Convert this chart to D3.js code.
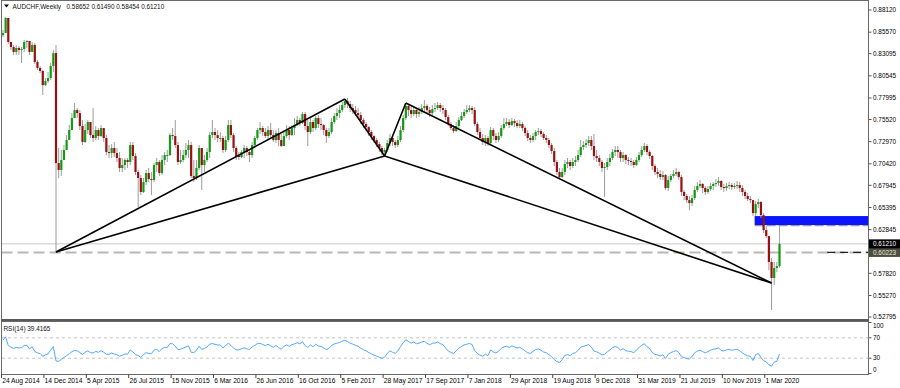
<!DOCTYPE html>
<html>
<head>
<meta charset="utf-8">
<script src="https://cdn.jsdelivr.net/npm/d3@7"></script>
<style>
body { margin: 0; background: #fff; }
svg { display: block; font-family: "Liberation Sans", Arial, sans-serif; }
</style>
</head>
<body>
<svg id="chart" width="900" height="388"></svg>
<script>
// AUDCHF weekly, 24 Aug 2014 .. 5 Apr 2020
var symbol = "AUDCHF,Weekly";
var firstWeek = "2014-08-24";
var firstOpen = 0.8524;

var closes = [
  0.8547,0.8720,0.8444,0.8386,0.8329,0.8375,0.8352,0.8363,0.8444,0.8455,
  0.8329,0.8409,0.8214,0.8145,0.8110,0.7948,0.7994,0.8029,0.8168,0.8317,
  0.7051,0.6971,0.7086,0.7201,0.7316,0.7431,0.7569,0.7661,0.7626,0.7477,
  0.7293,0.7431,0.7523,0.7373,0.7339,0.7431,0.7362,0.7454,0.7339,0.7178,
  0.7166,0.7224,0.7166,0.7109,0.6994,0.7028,0.7086,0.7063,0.7258,0.7132,
  0.6948,0.6879,0.6718,0.6833,0.6936,0.6867,0.6856,0.7028,0.7063,0.6936,
  0.7086,0.7143,0.7143,0.7373,0.7362,0.7258,0.7063,0.7086,0.7143,0.7201,
  0.7258,0.6902,0.6879,0.6994,0.7224,0.7028,0.7086,0.7178,0.7373,0.7408,
  0.7373,0.7339,0.7339,0.7201,0.7316,0.7488,0.7373,0.7224,0.7132,0.7120,
  0.7178,0.7224,0.7178,0.7143,0.7258,0.7339,0.7431,0.7454,0.7408,0.7362,
  0.7431,0.7373,0.7316,0.7396,0.7316,0.7247,0.7362,0.7431,0.7373,0.7454,
  0.7488,0.7546,0.7511,0.7615,0.7477,0.7408,0.7523,0.7454,0.7569,0.7500,
  0.7488,0.7431,0.7362,0.7408,0.7523,0.7592,0.7626,0.7661,0.7718,0.7764,
  0.7730,0.7684,0.7661,0.7626,0.7603,0.7546,0.7500,0.7465,0.7408,0.7362,
  0.7316,0.7270,0.7224,0.7178,0.7201,0.7281,0.7339,0.7293,0.7258,0.7316,
  0.7431,0.7569,0.7707,0.7661,0.7615,0.7661,0.7615,0.7638,0.7684,0.7707,
  0.7661,0.7626,0.7672,0.7684,0.7718,0.7684,0.7661,0.7580,0.7500,0.7454,
  0.7419,0.7477,0.7546,0.7592,0.7638,0.7661,0.7684,0.7661,0.7500,0.7408,
  0.7339,0.7293,0.7339,0.7281,0.7431,0.7362,0.7316,0.7362,0.7454,0.7500,
  0.7523,0.7488,0.7534,0.7511,0.7477,0.7500,0.7454,0.7396,0.7339,0.7316,
  0.7362,0.7408,0.7419,0.7385,0.7339,0.7316,0.7258,0.7189,0.7063,0.6948,
  0.6890,0.6948,0.7040,0.7063,0.7017,0.7063,0.7086,0.7143,0.7235,0.7258,
  0.7281,0.7316,0.7247,0.7132,0.7109,0.7063,0.6994,0.7005,0.7063,0.7109,
  0.7178,0.7201,0.7178,0.7109,0.7143,0.7086,0.7074,0.7063,0.7028,0.7086,
  0.7143,0.7201,0.7247,0.7178,0.7132,0.7017,0.6948,0.6925,0.6890,0.6913,
  0.6764,0.6856,0.6902,0.6925,0.6948,0.6890,0.6718,0.6672,0.6625,0.6590,
  0.6648,0.6741,0.6787,0.6810,0.6764,0.6718,0.6752,0.6787,0.6810,0.6821,
  0.6844,0.6775,0.6764,0.6787,0.6798,0.6775,0.6787,0.6798,0.6764,0.6718,
  0.6672,0.6637,0.6625,0.6475,0.6579,0.6602,0.6452,0.6280,0.6211,0.5912,
  0.5728,0.5843,0.58652,0.61210
];

var highs = [
  0.8582,0.8731,0.8720,0.8432,0.8409,0.8409,0.8398,0.8386,0.8467,0.8467,
  0.8444,0.8444,0.8432,0.8237,0.8168,0.8122,0.8029,0.8099,0.8202,0.8352,
  0.8409,0.7224,0.7201,0.7258,0.7373,0.7488,0.7626,0.7742,0.7684,0.7661,
  0.7546,0.7500,0.7546,0.7523,0.7684,0.7477,0.7454,0.7488,0.7454,0.7373,
  0.7258,0.7270,0.7293,0.7224,0.7178,0.7109,0.7109,0.7109,0.7293,0.7293,
  0.7166,0.6971,0.6913,0.6879,0.6971,0.6994,0.6948,0.7051,0.7109,0.7086,
  0.7143,0.7178,0.7201,0.7396,0.7454,0.7546,0.7293,0.7201,0.7201,0.7281,
  0.7316,0.7293,0.7086,0.7086,0.7258,0.7201,0.7143,0.7224,0.7408,0.7546,
  0.7454,0.7431,0.7408,0.7362,0.7362,0.7546,0.7546,0.7396,0.7247,0.7178,
  0.7201,0.7258,0.7247,0.7201,0.7293,0.7362,0.7454,0.7523,0.7477,0.7454,
  0.7477,0.7511,0.7431,0.7431,0.7454,0.7385,0.7408,0.7488,0.7477,0.7488,
  0.7569,0.7592,0.7569,0.7638,0.7638,0.7546,0.7569,0.7546,0.7592,0.7603,
  0.7569,0.7500,0.7454,0.7454,0.7569,0.7626,0.7684,0.7718,0.7753,0.7788,
  0.7799,0.7764,0.7730,0.7707,0.7684,0.7638,0.7569,0.7523,0.7477,0.7431,
  0.7373,0.7339,0.7293,0.7247,0.7224,0.7316,0.7385,0.7362,0.7316,0.7362,
  0.7477,0.7603,0.7742,0.7730,0.7695,0.7707,0.7684,0.7695,0.7730,0.7776,
  0.7730,0.7695,0.7718,0.7742,0.7753,0.7742,0.7718,0.7684,0.7603,0.7523,
  0.7488,0.7523,0.7580,0.7638,0.7672,0.7718,0.7718,0.7707,0.7695,0.7523,
  0.7454,0.7385,0.7373,0.7362,0.7465,0.7454,0.7396,0.7408,0.7488,0.7569,
  0.7569,0.7557,0.7569,0.7557,0.7546,0.7546,0.7523,0.7477,0.7431,0.7373,
  0.7396,0.7431,0.7454,0.7442,0.7408,0.7373,0.7339,0.7281,0.7224,0.7086,
  0.6994,0.6994,0.7086,0.7109,0.7086,0.7109,0.7132,0.7201,0.7316,0.7304,
  0.7327,0.7362,0.7362,0.7385,0.7201,0.7143,0.7086,0.7051,0.7109,0.7155,
  0.7212,0.7247,0.7247,0.7201,0.7178,0.7155,0.7120,0.7109,0.7086,0.7120,
  0.7178,0.7247,0.7281,0.7270,0.7201,0.7143,0.7040,0.6994,0.6971,0.6959,
  0.6925,0.6902,0.6925,0.6971,0.6994,0.6959,0.6913,0.6741,0.6695,0.6672,
  0.6683,0.6787,0.6833,0.6856,0.6821,0.6787,0.6787,0.6821,0.6833,0.6867,
  0.6890,0.6856,0.6810,0.6821,0.6833,0.6821,0.6821,0.6844,0.6833,0.6798,
  0.6741,0.6706,0.6672,0.6625,0.6614,0.6637,0.6614,0.6475,0.6326,0.6165,
  0.5958,0.5912,0.5912,0.61490
];

var lows = [
  0.8501,0.8547,0.8421,0.8352,0.8294,0.8294,0.8294,0.8202,0.8329,0.8375,
  0.8294,0.8352,0.8191,0.8122,0.8087,0.7834,0.7937,0.7972,0.8006,0.8099,
  0.6027,0.6879,0.6902,0.7109,0.7201,0.7316,0.7454,0.7569,0.7569,0.7431,
  0.7258,0.7281,0.7385,0.7339,0.7293,0.7316,0.7316,0.7350,0.7293,0.7143,
  0.7109,0.7109,0.7120,0.7063,0.6948,0.6948,0.6971,0.6994,0.7028,0.7086,
  0.6913,0.6545,0.6683,0.6706,0.6798,0.6833,0.6683,0.6833,0.6948,0.6902,
  0.6913,0.7028,0.7063,0.7132,0.7316,0.7224,0.7028,0.7040,0.7063,0.7109,
  0.7109,0.6879,0.6833,0.6856,0.6971,0.6741,0.6948,0.7063,0.7109,0.7339,
  0.7316,0.7293,0.7293,0.7166,0.7178,0.7293,0.7339,0.7178,0.7086,0.7086,
  0.7109,0.7109,0.7132,0.7063,0.7109,0.7224,0.7316,0.7385,0.7362,0.7339,
  0.7316,0.7339,0.7293,0.7281,0.7247,0.7235,0.7247,0.7339,0.7316,0.7362,
  0.7373,0.7477,0.7477,0.7500,0.7431,0.7247,0.7385,0.7408,0.7431,0.7454,
  0.7431,0.7373,0.7281,0.7339,0.7385,0.7500,0.7546,0.7569,0.7638,0.7684,
  0.7684,0.7638,0.7615,0.7592,0.7569,0.7500,0.7454,0.7419,0.7362,0.7316,
  0.7281,0.7235,0.7178,0.7143,0.7120,0.7178,0.7247,0.7247,0.7224,0.7235,
  0.7293,0.7408,0.7546,0.7592,0.7569,0.7592,0.7569,0.7580,0.7615,0.7638,
  0.7615,0.7580,0.7603,0.7638,0.7661,0.7638,0.7615,0.7546,0.7477,0.7431,
  0.7396,0.7408,0.7454,0.7534,0.7569,0.7615,0.7638,0.7615,0.7477,0.7373,
  0.7316,0.7258,0.7247,0.7247,0.7258,0.7316,0.7281,0.7293,0.7339,0.7431,
  0.7477,0.7454,0.7477,0.7465,0.7454,0.7454,0.7419,0.7362,0.7304,0.7281,
  0.7293,0.7316,0.7373,0.7350,0.7316,0.7281,0.7224,0.7155,0.7017,0.6913,
  0.6867,0.6879,0.6913,0.6994,0.6971,0.6994,0.7017,0.7063,0.7120,0.7201,
  0.7224,0.7247,0.7201,0.7086,0.7063,0.7017,0.6948,0.6660,0.6971,0.7017,
  0.7086,0.7132,0.7109,0.7063,0.7063,0.7040,0.7028,0.7017,0.6994,0.7017,
  0.7063,0.7120,0.7178,0.7143,0.7097,0.6971,0.6913,0.6879,0.6856,0.6856,
  0.6741,0.6729,0.6833,0.6879,0.6902,0.6856,0.6672,0.6625,0.6590,0.6510,
  0.6556,0.6625,0.6718,0.6764,0.6706,0.6683,0.6695,0.6729,0.6741,0.6775,
  0.6787,0.6741,0.6718,0.6729,0.6752,0.6741,0.6752,0.6752,0.6718,0.6672,
  0.6637,0.6614,0.6590,0.6441,0.6441,0.6533,0.6418,0.6245,0.6188,0.5820,
  0.5360,0.5648,0.5797,0.58454
];

var priceTicks = [0.88120, 0.85570, 0.83095, 0.80545, 0.77995, 0.75520, 0.72970,
                  0.70420, 0.67945, 0.65395, 0.62845, 0.57820, 0.55270, 0.52795];
var dateTicks = ["24 Aug 2014", "14 Dec 2014", "5 Apr 2015", "26 Jul 2015", "15 Nov 2015",
                 "6 Mar 2016", "26 Jun 2016", "16 Oct 2016", "5 Feb 2017", "28 May 2017",
                 "17 Sep 2017", "7 Jan 2018", "29 Apr 2018", "19 Aug 2018", "9 Dec 2018",
                 "31 Mar 2019", "21 Jul 2019", "10 Nov 2019", "1 Mar 2020"];
var rsiTicks = [100, 70, 30, 0];
var rsiLevels = [70, 30];
var rsiPeriod = 14;
var rsiSeed = [0.0040, 0.0022];   // avg gain / avg loss carried in from the weeks before the window
var rsiLabel = "RSI(14) 39.4165";

// drawn objects
var levelPrice = 0.60223;           // dashed line at the SNB low
var levelDarkFrom = "2020-08-09";   // where the black part of that line starts
var zoneStart = "2020-02-02";
var zoneTop = 0.6441;
var zoneBottom = 0.6337;
var pivotNames  = ["X", "A", "B", "C", "D"];
var pivotDates  = ["2015-01-11", "2017-02-12", "2017-05-28", "2017-07-23", "2020-03-15"];
var pivotPrices = [0.6027, 0.7788, 0.7132, 0.7742, 0.5670];
var legs = [["X", "A"], ["X", "B"], ["A", "B"], ["B", "C"], ["C", "D"], ["B", "D"]];

var svg = d3.select("#chart");
var parseDay = d3.utcParse("%Y-%m-%d");
var parseTick = d3.utcParse("%d %b %Y");
var start = parseDay(firstWeek);

var bars = closes.map(function (c, i) {
    var o = i === 0 ? firstOpen : closes[i - 1];
    return {
        date: d3.utcWeek.offset(start, i),
        open: o, close: c,
        high: Math.max(highs[i], o, c),
        low: Math.min(lows[i], o, c)
    };
});
var last = bars[bars.length - 1];

var plotRight = 868.5;
var x = d3.scaleUtc().domain([bars[0].date, last.date]).range([3, 779.5]);
var y = d3.scaleLinear().domain([priceTicks[priceTicks.length - 1], priceTicks[0]]).range([317, 10]);
var ry = d3.scaleLinear().domain([0, 100]).range([373.5, 322.5]);

svg.append("defs").append("clipPath").attr("id", "mainclip")
    .append("rect").attr("x", 1.5).attr("y", 1).attr("width", plotRight - 1.5).attr("height", 318);

var main = svg.append("g").attr("clip-path", "url(#mainclip)");

// zone box (background object)
var zx = x(parseDay(zoneStart)) - 1;
main.append("rect")
    .attr("x", zx).attr("y", y(zoneTop))
    .attr("width", plotRight - zx).attr("height", y(zoneBottom) - y(zoneTop))
    .attr("fill", "#0a14ff");
main.append("line")
    .attr("x1", zx).attr("x2", plotRight)
    .attr("y1", y(zoneBottom) + 0.5).attr("y2", y(zoneBottom) + 0.5)
    .attr("stroke", "#9a9a9a").attr("stroke-width", 1.2)
    .style("stroke-dasharray", "9,3");
main.append("line")
    .attr("x1", x(last.date)).attr("x2", x(last.date))
    .attr("y1", y(zoneBottom) + 1).attr("y2", y(last.high))
    .attr("stroke", "#a8a8a8").attr("stroke-width", 1);

// bid line and dashed level
main.append("line")
    .attr("x1", 1.5).attr("x2", plotRight)
    .attr("y1", y(last.close)).attr("y2", y(last.close))
    .attr("stroke", "#c8c8c8").attr("stroke-width", 1);
main.append("line")
    .attr("x1", 1.5).attr("x2", plotRight)
    .attr("y1", y(levelPrice)).attr("y2", y(levelPrice))
    .attr("stroke", "#b9b9b1").attr("stroke-width", 2)
    .style("stroke-dasharray", "11,5");
main.append("line")
    .attr("x1", x(parseDay(levelDarkFrom))).attr("x2", plotRight)
    .attr("y1", y(levelPrice)).attr("y2", y(levelPrice))
    .attr("stroke", "#222").attr("stroke-width", 1.3)
    .style("stroke-dasharray", "8,5");

// candles
var candle = main.append("g").selectAll("g").data(bars).enter().append("g");
candle.append("line")
    .attr("x1", function (d) { return x(d.date); })
    .attr("x2", function (d) { return x(d.date); })
    .attr("y1", function (d) { return y(d.high); })
    .attr("y2", function (d) { return y(d.low); })
    .attr("stroke", "#9c9c9c").attr("stroke-width", 1);
candle.append("rect")
    .attr("x", function (d) { return x(d.date) - 1.1; })
    .attr("width", 2.2)
    .attr("y", function (d) { return y(Math.max(d.open, d.close)); })
    .attr("height", function (d) { return Math.max(1, Math.abs(y(d.open) - y(d.close))); })
    .attr("fill", function (d) { return d.close >= d.open ? "#139a13" : "#9a1010"; });

// trend lines between pivots
var pivot = {};
pivotNames.forEach(function (n, i) {
    pivot[n] = { date: parseDay(pivotDates[i]), price: pivotPrices[i] };
});
main.append("g").selectAll("line").data(legs).enter().append("line")
    .attr("x1", function (d) { return x(pivot[d[0]].date); })
    .attr("y1", function (d) { return y(pivot[d[0]].price); })
    .attr("x2", function (d) { return x(pivot[d[1]].date); })
    .attr("y2", function (d) { return y(pivot[d[1]].price); })
    .attr("stroke", "#000").attr("stroke-width", 1.6);

// frames
svg.append("rect").attr("x", 1.5).attr("y", 0.5).attr("width", plotRight - 1.5).attr("height", 319)
    .attr("fill", "none").attr("stroke", "#6a6a6a").attr("stroke-width", 1);
svg.append("line").attr("x1", 1).attr("x2", plotRight + 0.5).attr("y1", 320.3).attr("y2", 320.3)
    .attr("stroke", "#5a5a5a").attr("stroke-width", 2.6);
svg.append("rect").attr("x", 1.5).attr("y", 321.5).attr("width", plotRight - 1.5).attr("height", 53)
    .attr("fill", "none").attr("stroke", "#6a6a6a").attr("stroke-width", 1);

// price axis
var pAxis = svg.append("g").style("font-size", "6.4px").attr("fill", "#000");
priceTicks.forEach(function (p) {
    pAxis.append("line").attr("x1", plotRight).attr("x2", plotRight + 3)
        .attr("y1", y(p)).attr("y2", y(p)).attr("stroke", "#555");
    pAxis.append("text").attr("x", 873).attr("y", y(p)).attr("dy", "0.35em").text(p.toFixed(5));
});

function priceTag(p, bg, fg) {
    var yy = y(p);
    svg.append("rect").attr("x", plotRight + 0.5).attr("y", yy - 4.5).attr("width", 900 - plotRight).attr("height", 9)
        .attr("fill", bg);
    svg.append("text").attr("x", 873).attr("y", yy).attr("dy", "0.35em")
        .style("font-size", "6.4px").attr("fill", fg).text(p.toFixed(5));
}
priceTag(levelPrice, "#4e4e40", "#e8e8dc");
priceTag(last.close, "#000", "#fff");

// header
svg.append("path").attr("d", "M4,4.5 L9,4.5 L6.5,7.5 Z").attr("fill", "#000");
svg.append("text").attr("x", 12.5).attr("y", 9).style("font-size", "6.4px").attr("fill", "#111")
    .text(symbol);
svg.append("text").attr("x", 66.5).attr("y", 9).style("font-size", "6.4px").attr("fill", "#111")
    .text([last.open, last.high, last.low, last.close].map(function (v) { return v.toFixed(5); }).join(" "));

// RSI(14), Wilder smoothing
var avgGain = rsiSeed[0], avgLoss = rsiSeed[1];
var rsi = bars.map(function (d) {
    var ch = d.close - d.open;
    avgGain = (avgGain * (rsiPeriod - 1) + Math.max(ch, 0)) / rsiPeriod;
    avgLoss = (avgLoss * (rsiPeriod - 1) + Math.max(-ch, 0)) / rsiPeriod;
    return { date: d.date, value: 100 - 100 / (1 + avgGain / avgLoss) };
});

var rsiG = svg.append("g");
rsiLevels.forEach(function (v) {
    rsiG.append("line").attr("x1", 2).attr("x2", plotRight)
        .attr("y1", ry(v)).attr("y2", ry(v))
        .attr("stroke", "#c4c4c4").attr("stroke-width", 1)
        .style("stroke-dasharray", "3,3");
});
rsiG.append("path").datum(rsi)
    .attr("d", d3.line().x(function (d) { return x(d.date); }).y(function (d) { return ry(d.value); }))
    .attr("fill", "none").attr("stroke", "#52a8ff").attr("stroke-width", 1);
rsiG.append("text").attr("x", 3.5).attr("y", 330.5).style("font-size", "6.4px").attr("fill", "#111")
    .text(rsiLabel);
rsiTicks.forEach(function (v) {
    rsiG.append("line").attr("x1", plotRight).attr("x2", plotRight + 3)
        .attr("y1", ry(v)).attr("y2", ry(v)).attr("stroke", "#555");
    rsiG.append("text").attr("x", 873)
        .attr("y", Math.min(Math.max(ry(v), 326), 370)).attr("dy", "0.35em")
        .style("font-size", "6.4px").attr("fill", "#000").text(v);
});

// time axis
var tAxis = svg.append("g");
dateTicks.forEach(function (t) {
    var tx = x(parseTick(t));
    tAxis.append("line").attr("x1", tx - 1.5).attr("x2", tx - 1.5).attr("y1", 374.5).attr("y2", 378)
        .attr("stroke", "#444");
    tAxis.append("text").attr("x", tx - 0.8).attr("y", 382.5)
        .style("font-size", "6.7px").attr("fill", "#000").text(t);
});
</script>
</body>
</html>
